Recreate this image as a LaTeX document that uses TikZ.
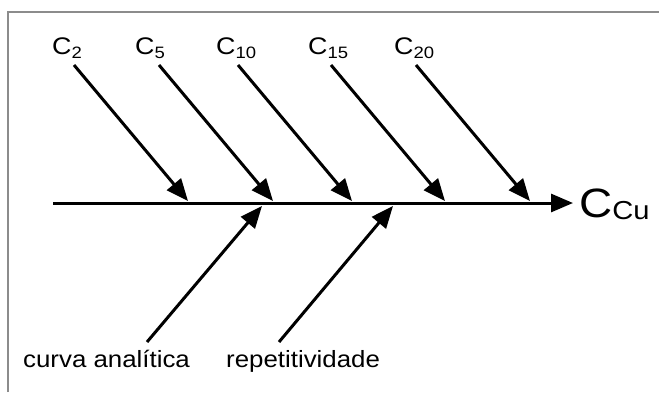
\documentclass[tikz,border=0pt]{standalone}
\usepackage{fontspec}
\setmainfont{Liberation Sans}
\usetikzlibrary{arrows.meta}
\tikzset{
  lbl/.style={inner sep=0pt, anchor=base west, font=\fontsize{24}{24}\selectfont},
  blbl/.style={inner sep=0pt, anchor=base west, font=\fontsize{23.5}{23.5}\selectfont},
  arr/.style={line width=3pt, -{Triangle[length=22pt,width=18pt]}},
  frame/.style={draw=black!45, line width=2pt}
}
\newcommand{\Csub}[1]{\scalebox{1.12}[1]{C\raisebox{-4pt}{\fontsize{16.5}{16.5}\selectfont #1}}}
\newcommand{\Wide}[1]{\scalebox{1.1}[1]{#1}}
\begin{document}
\begin{tikzpicture}[x=1pt,y=-1pt]
\useasboundingbox (0,0) rectangle (659,392);
\draw[frame] (8,392) -- (8,12) -- (660,12);
% labels
\node[lbl] (c2) at (52,54) {\Csub{2}};
\node[lbl] (c5) at (135,54) {\Csub{5}};
\node[lbl] (c10) at (216,54) {\Csub{10}};
\node[lbl] (c15) at (308,54) {\Csub{15}};
\node[lbl] (c20) at (394,54) {\Csub{20}};
\node[inner sep=0pt, anchor=base west, font=\fontsize{41}{41}\selectfont] (ccu) at (579,217) {\scalebox{1.12}[1]{C\raisebox{-2pt}{\fontsize{26}{26}\selectfont Cu}}};
\node[blbl] (curva) at (23,367) {\Wide{curva analítica}};
\node[blbl] (rep) at (226,367) {\Wide{repetitividade}};
% coordinates
\coordinate (s0) at (53,203);
\coordinate (e0) at (573,203);
\coordinate (a2) at (74,65);  \coordinate (t2) at (188,201);
\coordinate (a5) at (159,65); \coordinate (t5) at (273,201);
\coordinate (a10) at (238,65); \coordinate (t10) at (352,201);
\coordinate (a15) at (331,65); \coordinate (t15) at (445,201);
\coordinate (a20) at (416,65); \coordinate (t20) at (530,201);
\coordinate (b1) at (147,342); \coordinate (u1) at (262,206);
\coordinate (b2) at (279,342); \coordinate (u2) at (393,206);
% arrows
\draw[arr] (s0) -- (e0);
\draw[arr] (a2) -- (t2);
\draw[arr] (a5) -- (t5);
\draw[arr] (a10) -- (t10);
\draw[arr] (a15) -- (t15);
\draw[arr] (a20) -- (t20);
\draw[arr] (b1) -- (u1);
\draw[arr] (b2) -- (u2);
\end{tikzpicture}
\end{document}
